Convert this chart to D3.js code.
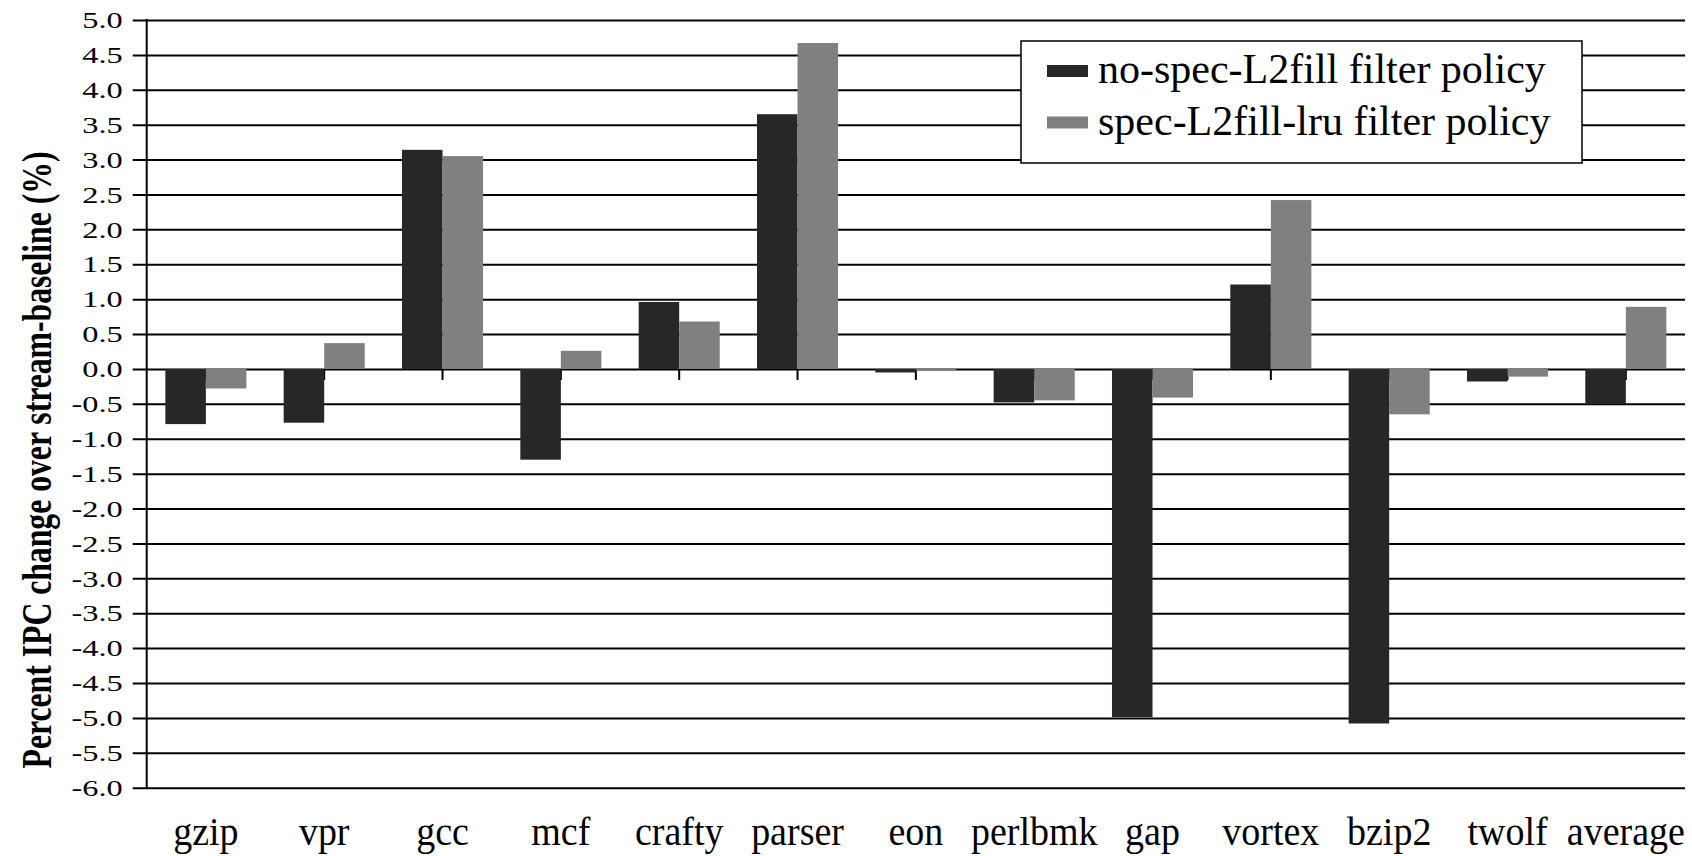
<!DOCTYPE html>
<html>
<head>
<meta charset="utf-8">
<script src="https://cdn.jsdelivr.net/npm/d3@7"></script>
<style>
  body { margin: 0; background: #fff; }
  text { font-family: "Liberation Serif", "Times New Roman", serif; fill: #000; }
</style>
</head>
<body>
<svg id="chart" width="1692" height="856"></svg>
<script>
const categories = ["gzip","vpr","gcc","mcf","crafty","parser","eon","perlbmk","gap","vortex","bzip2","twolf","average"];
const seriesNames = ["no-spec-L2fill filter policy", "spec-L2fill-lru filter policy"];
const noSpecL2fill = [-0.79, -0.77, 3.14, -1.30, 0.96, 3.65, -0.05, -0.48, -4.99, 1.21, -5.08, -0.18, -0.50];
const specL2fillLru = [-0.28, 0.37, 3.05, 0.26, 0.68, 4.67, -0.02, -0.45, -0.41, 2.42, -0.65, -0.11, 0.89];
const yTicks = [5.0, 4.5, 4.0, 3.5, 3.0, 2.5, 2.0, 1.5, 1.0, 0.5, 0.0, -0.5, -1.0, -1.5, -2.0, -2.5, -3.0, -3.5, -4.0, -4.5, -5.0, -5.5, -6.0];
const colors = ["#272727", "#808080"];

const plotLeft = 146.7, plotRight = 1685, plotTop = 20, plotBottom = 787.7;
const svg = d3.select("#chart");

const y = d3.scaleLinear().domain([-6, 5]).range([plotBottom, plotTop]);
const x = d3.scaleBand().domain(categories).range([plotLeft, plotRight])
  .paddingInner(0.315).paddingOuter(0.1575);
const xSub = d3.scaleBand().domain([0, 1]).range([0, x.bandwidth()]);

// gridlines + y tick labels
const yAxis = d3.axisLeft(y)
  .tickValues(yTicks)
  .tickFormat(d => d.toFixed(1))
  .tickSize(-(plotRight - plotLeft))
  .tickSizeOuter(0);
const gy = svg.append("g").attr("transform", `translate(${plotLeft},0)`).call(yAxis);
gy.select(".domain").remove();
gy.selectAll(".tick line").attr("x1", -14).attr("stroke", "#000").attr("stroke-width", 2);
gy.selectAll(".tick text")
  .attr("x", 0)
  .attr("transform", "translate(-24,0) scale(1.35,1)")
  .style("font-size", "24px")
  .style("font-family", "'Liberation Serif', serif");

// category ticks on zero line
const xAxis = d3.axisBottom(x).tickSize(11).tickSizeOuter(0).tickFormat("");
const gx = svg.append("g").attr("transform", `translate(0,${y(0)})`).call(xAxis);
gx.select(".domain").remove();
gx.selectAll(".tick line").attr("stroke", "#000").attr("stroke-width", 2);

// bars
const series = [noSpecL2fill, specL2fillLru];
const groups = svg.append("g").selectAll("g")
  .data(categories)
  .join("g")
  .attr("transform", d => `translate(${x(d)},0)`);
groups.selectAll("rect")
  .data((d, i) => series.map((s, k) => ({k, v: s[i]})))
  .join("rect")
  .attr("x", d => xSub(d.k))
  .attr("width", xSub.bandwidth())
  .attr("y", d => y(Math.max(0, d.v)))
  .attr("height", d => Math.abs(y(d.v) - y(0)))
  .attr("fill", d => colors[d.k]);

// vertical axis line
svg.append("line")
  .attr("x1", plotLeft).attr("x2", plotLeft)
  .attr("y1", y(5) - 1).attr("y2", y(-6) + 1)
  .attr("stroke", "#000").attr("stroke-width", 2);

// category labels
svg.append("g").selectAll("text")
  .data(categories)
  .join("text")
  .attr("transform", d => `translate(${x(d) + x.bandwidth() / 2},845) scale(1,1.08)`)
  .attr("text-anchor", "middle")
  .style("font-size", "38px")
  .text(d => d);

// y title - condensed to fit the plot height
const title = svg.append("text")
  .attr("text-anchor", "middle")
  .style("font-size", "43px")
  .style("font-weight", "bold")
  .text("Percent IPC change over stream-baseline (%)");
const titleLen = title.node().getComputedTextLength();
title.attr("transform", `translate(51,460) rotate(-90) scale(${617 / titleLen},1)`);

// legend
const legend = svg.append("g");
legend.append("rect")
  .attr("x", 1021).attr("y", 41).attr("width", 561).attr("height", 122)
  .attr("fill", "#fff").attr("stroke", "#000").attr("stroke-width", 1.5);
const rows = legend.selectAll("g.row")
  .data(seriesNames)
  .join("g")
  .attr("class", "row")
  .attr("transform", (d, i) => `translate(1047,${71 + i * 51.5})`);
rows.append("rect")
  .attr("x", 0).attr("y", -6).attr("width", 41).attr("height", 12)
  .attr("fill", (d, i) => colors[i]);
rows.append("text")
  .attr("x", 51).attr("y", 12)
  .style("font-size", "42px")
  .text(d => d);
</script>
</body>
</html>
